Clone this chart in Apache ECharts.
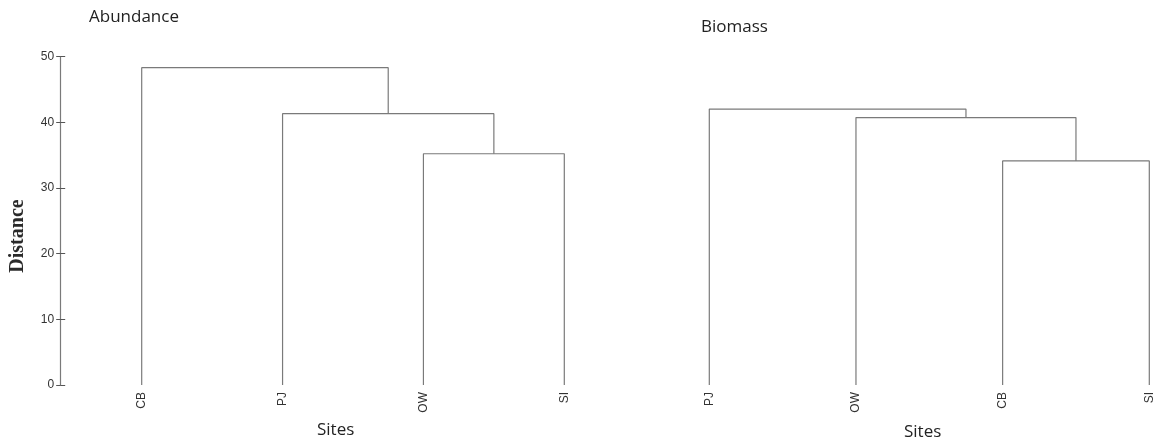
<!DOCTYPE html>
<html>
<head>
<meta charset="utf-8">
<script src="https://cdn.jsdelivr.net/npm/echarts@6/dist/echarts.min.js"></script>
<style>
  html, body { margin: 0; padding: 0; background: #fff; }
  #chart { width: 1159px; height: 440px; }
</style>
</head>
<body>
<div id="chart"></div>
<script>
// Leaf order along each dendrogram and the merges that join them.
// A merge is [left node, right node, distance]; leaves are 0..n-1, merged
// clusters continue the numbering from n upward.
const abundanceLeaves = ['CB', 'PJ', 'OW', 'SI'];
const abundanceMerges = [[2, 3, 35.2], [1, 4, 41.3], [0, 5, 48.3]];

const biomassLeaves = ['PJ', 'OW', 'CB', 'SI'];
const biomassMerges = [[2, 3, 34.1], [1, 4, 40.7], [0, 5, 42.0]];

const distanceTicks = [0, 10, 20, 30, 40, 50];

const lineColor = '#7a7a7a';
const TOP = 56.5, HEIGHT = 328.5;

// Turn the merge list into bracket polylines: each node sits at the mean
// position of its children and at the height of its merge.
function dendrogramSeries(leaves, merges, gridIndex) {
  const nodes = leaves.map((_, i) => ({ x: i, h: 0 }));
  const series = [];
  merges.forEach(([a, b, h]) => {
    const A = nodes[a], B = nodes[b];
    series.push({
      type: 'line',
      xAxisIndex: gridIndex,
      yAxisIndex: gridIndex === 0 ? 0 : 2,
      data: [[A.x, A.h], [A.x, h], [B.x, h], [B.x, B.h]],
      symbol: 'none',
      silent: true,
      animation: false,
      lineStyle: { color: lineColor, width: 1.2 }
    });
    nodes.push({ x: (A.x + B.x) / 2, h: h });
  });
  return series;
}

function leafAxis(leaves, gridIndex) {
  return {
    type: 'value',
    gridIndex: gridIndex,
    min: 0,
    max: leaves.length - 1,
    interval: 1,
    axisLine: { show: false, onZero: false },
    axisTick: { show: false },
    splitLine: { show: false },
    axisLabel: {
      rotate: 90,
      margin: 7,
      color: '#333',
      fontFamily: 'Liberation Sans',
      fontSize: 12,
      formatter: v => leaves[v] || ''
    }
  };
}

const distanceAxisBase = {
  type: 'value',
  min: distanceTicks[0],
  max: distanceTicks[distanceTicks.length - 1],
  interval: 10,
  splitLine: { show: false }
};

const chart = echarts.init(document.getElementById('chart'), null, { renderer: 'canvas' });

const textStyleTitle = { fontFamily: 'Open Sans', fontSize: 17, fontWeight: 'normal', color: '#222' };

chart.setOption({
  backgroundColor: '#fff',
  animation: false,
  title: [
    { text: 'Abundance', left: 84, top: 4, textStyle: textStyleTitle },
    { text: 'Biomass', left: 696, top: 14, textStyle: textStyleTitle },
    { text: 'Sites', left: 312, top: 417, textStyle: textStyleTitle },
    { text: 'Sites', left: 899, top: 419, textStyle: textStyleTitle }
  ],
  graphic: [{
    type: 'text',
    x: 8,
    y: 236,
    rotation: Math.PI / 2,
    style: {
      text: 'Distance',
      font: 'bold 20px "Liberation Serif"',
      fill: '#2a2a2a',
      align: 'center',
      verticalAlign: 'top'
    }
  }],
  grid: [
    { left: 141.7, width: 422.6, top: TOP, height: HEIGHT },
    { left: 709.3, width: 440, top: TOP, height: HEIGHT }
  ],
  xAxis: [leafAxis(abundanceLeaves, 0), leafAxis(biomassLeaves, 1)],
  yAxis: [
    Object.assign({}, distanceAxisBase, {
      gridIndex: 0,
      position: 'left',
      offset: 81.5,
      axisLine: { show: true, onZero: false, lineStyle: { color: lineColor, width: 1.2 } },
      axisTick: { show: true, length: 4, lineStyle: { color: '#555' } },
      axisLabel: { color: '#333', fontFamily: 'Liberation Sans', fontSize: 12, margin: 6 }
    }),
    // inner half of the crossing tick marks
    Object.assign({}, distanceAxisBase, {
      gridIndex: 0,
      position: 'left',
      offset: 81.5,
      axisLine: { show: false, onZero: false },
      axisTick: { show: true, inside: true, length: 5, lineStyle: { color: '#555' } },
      axisLabel: { show: false }
    }),
    Object.assign({}, distanceAxisBase, {
      gridIndex: 1,
      show: false
    })
  ],
  series: [
    ...dendrogramSeries(abundanceLeaves, abundanceMerges, 0),
    ...dendrogramSeries(biomassLeaves, biomassMerges, 1)
  ]
});
</script>
</body>
</html>
